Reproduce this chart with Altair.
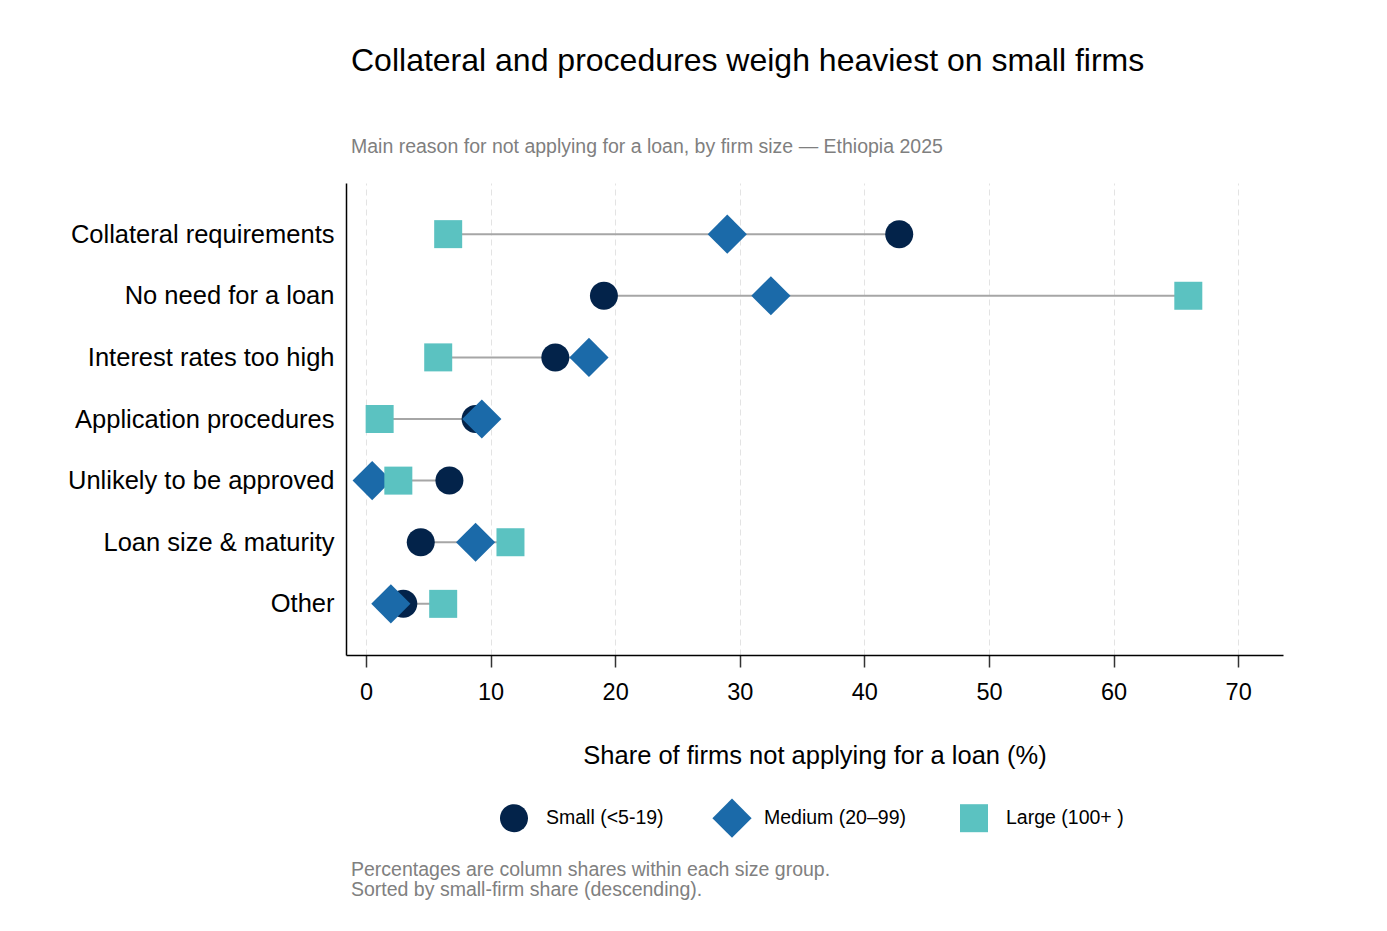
import altair as alt
import pandas as pd

FONT = "Liberation Sans"

categories = [
    "Collateral requirements",
    "No need for a loan",
    "Interest rates too high",
    "Application procedures",
    "Unlikely to be approved",
    "Loan size & maturity",
    "Other",
]
small = [42.8, 19.1, 15.2, 8.8, 6.7, 4.4, 3.0]
medium = [29.0, 32.5, 17.9, 9.3, 0.5, 8.8, 2.0]
large = [6.6, 66.0, 5.8, 1.1, 2.6, 11.6, 6.2]

series_names = ["Small (<5-19)", "Medium (20\u201399)", "Large (100+ )"]
series_colors = ["#03234a", "#1b6aa9", "#5bc2c1"]
# custom symbol paths sharing the same bounding box so legend entries align
bbox = "M0,-1.4M0,1.4M-1.4,0M1.4,0"
circle_path = bbox + "M1,0A1,1,0,1,1,-1,0A1,1,0,1,1,1,0Z"
diamond_path = "M-1.4,0L0,-1.4L1.4,0L0,1.4Z"
square_path = bbox + "M-1,-1L1,-1L1,1L-1,1Z"
series_shapes = [circle_path, diamond_path, square_path]

rows = []
for name, vals in zip(series_names, [small, medium, large]):
    for c, v in zip(categories, vals):
        rows.append({"category": c, "series": name, "value": v})
df = pd.DataFrame(rows)

notes = pd.DataFrame({"t": ["Percentages are column shares within each size group."]})
notes2 = pd.DataFrame({"t": ["Sorted by small-firm share (descending)."]})

W, H = 937, 472

y_enc = alt.Y(
    "category:N",
    sort=categories,
    scale=alt.Scale(type="point", padding=0.83),
    axis=alt.Axis(
        title=None,
        ticks=False,
        grid=False,
        labelFontSize=25.5,
        labelColor="black",
        labelPadding=12,
        labelFont=FONT,
        labelLimit=0,
        domainColor="black",
        domainWidth=1.5,
    ),
)

x_scale = alt.Scale(domain=[-1.6, 73.6], nice=False, zero=False)
x_axis = alt.Axis(
    title="Share of firms not applying for a loan (%)",
    values=[0, 10, 20, 30, 40, 50, 60, 70],
    grid=True,
    gridDash=[6, 4],
    gridColor="#e3e3e3",
    gridWidth=1,
    tickSize=12,
    tickColor="#333333",
    tickWidth=1.5,
    labelFontSize=23.5,
    labelColor="black",
    labelPadding=13,
    labelFont=FONT,
    titleFont=FONT,
    titleFontSize=25.5,
    titleFontWeight="normal",
    titleColor="black",
    titlePadding=40,
    domainColor="black",
    domainWidth=1.5,
)

rule = alt.Chart(df).mark_rule(color="#a6a6a6", strokeWidth=2).encode(
    y=y_enc,
    x=alt.X("min(value):Q", scale=x_scale, axis=x_axis),
    x2="max(value):Q",
)

points = alt.Chart(df).mark_point(filled=True, size=784, opacity=1).encode(
    y=y_enc,
    x=alt.X("value:Q", scale=x_scale, axis=x_axis),
    color=alt.Color(
        "series:N",
        sort=series_names,
        scale=alt.Scale(domain=series_names, range=series_colors),
        legend=alt.Legend(
            title=None,
            orient="none",
            legendX=154,
            legendY=621,
            direction="horizontal",
            columns=3,
            columnPadding=48,
            labelOffset=18,
            labelFontSize=19.5,
            labelFont=FONT,
            labelColor="black",
            symbolSize=784,
            symbolOpacity=1,
            symbolStrokeWidth=0,
            padding=0,
        ),
    ),
    shape=alt.Shape(
        "series:N",
        sort=series_names,
        scale=alt.Scale(domain=series_names, range=series_shapes),
    ),
)

note1 = alt.Chart(notes).mark_text(
    align="left", baseline="middle", fontSize=19.5, font=FONT, color="#808080"
).encode(x=alt.value(5), y=alt.value(687), text="t:N")
note2 = alt.Chart(notes2).mark_text(
    align="left", baseline="middle", fontSize=19.5, font=FONT, color="#808080"
).encode(x=alt.value(5), y=alt.value(707), text="t:N")

chart = (
    alt.layer(rule, points, note1, note2)
    .properties(
        width=W,
        height=H,
        view=alt.ViewBackground(strokeOpacity=0, strokeWidth=0),
        padding={"left": 59, "top": 36, "right": 20, "bottom": 20},
        title=alt.TitleParams(
            text="Collateral and procedures weigh heaviest on small firms",
            subtitle="Main reason for not applying for a loan, by firm size \u2014 Ethiopia 2025",
            anchor="start",
            frame="group",
            dx=5,
            font=FONT,
            fontSize=32,
            fontWeight="normal",
            color="black",
            subtitleFont=FONT,
            subtitleFontSize=19.5,
            subtitleColor="#7f7f7f",
            subtitlePadding=60,
            offset=26,
        ),
    )
    .configure_view(stroke="transparent", strokeWidth=0, strokeOpacity=0)
    .configure(background="white")
)

chart.save("out.html", embed_options={"renderer": "svg", "actions": False})
